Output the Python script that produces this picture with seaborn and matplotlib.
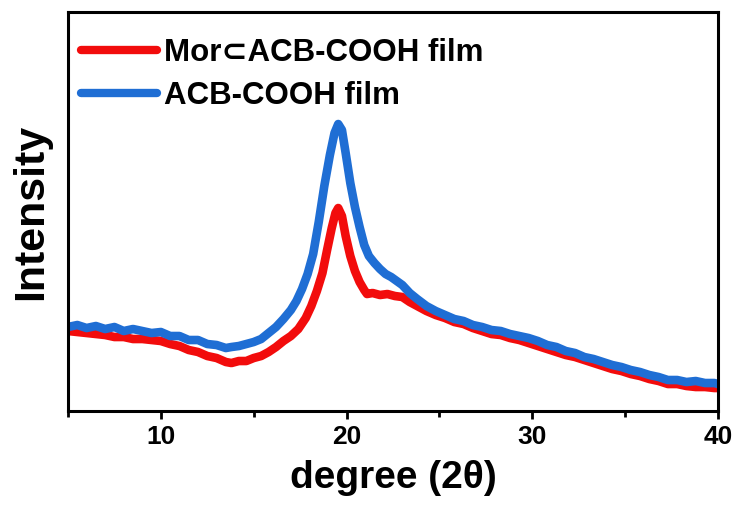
import matplotlib
matplotlib.use("Agg")
import matplotlib.pyplot as plt
import seaborn as sns
import pandas as pd
from matplotlib.ticker import MultipleLocator, NullLocator

# XRD patterns (2theta in degrees, intensity in arbitrary units)
two_theta_acb = [
    5.0, 5.5, 6.0, 6.5, 7.0, 7.5, 8.0, 8.5, 9.0, 9.5, 10.0, 10.5, 11.0, 11.5,
    12.0, 12.5, 13.0, 13.5, 13.8, 14.2, 14.6, 15.0, 15.4, 15.8, 16.2, 16.6,
    17.0, 17.3, 17.6, 17.9, 18.2, 18.5, 18.8, 19.1, 19.35, 19.55, 19.75, 19.95,
    20.2, 20.45, 20.7, 20.95, 21.2, 21.5, 21.8, 22.1, 22.4, 22.7, 23.0, 23.4,
    23.8, 24.3, 24.8, 25.3, 25.8, 26.3, 26.8, 27.3, 27.8, 28.3, 28.8, 29.3,
    29.8, 30.3, 30.8, 31.3, 31.8, 32.3, 32.8, 33.3, 33.8, 34.3, 34.8, 35.3,
    35.8, 36.3, 36.8, 37.3, 37.8, 38.3, 38.8, 39.3, 39.8, 40.0,
]
intensity_acb = [
    84, 86, 83, 85, 82, 84, 80, 82, 80, 78, 79, 75, 75, 71,
    71, 67, 66, 63, 64, 65, 67, 69, 72, 78, 84, 92,
    101, 110, 122, 137, 157, 189, 225, 256, 278, 287, 281, 258,
    228, 204, 184, 166, 155, 148, 142, 137, 134, 130, 126, 118,
    112, 105, 100, 96, 92, 90, 86, 84, 81, 80, 77, 75,
    73, 70, 66, 64, 60, 58, 54, 52, 49, 46, 44, 41,
    39, 36, 34, 31, 31, 29, 30, 28, 28, 27,
]

two_theta_mor = [
    5.0, 5.5, 6.0, 6.5, 7.0, 7.5, 8.0, 8.5, 9.0, 9.5, 10.0, 10.5, 11.0, 11.5,
    12.0, 12.5, 13.0, 13.5, 13.8, 14.2, 14.6, 15.0, 15.4, 15.8, 16.2, 16.6,
    17.0, 17.4, 17.8, 18.1, 18.4, 18.7, 18.95, 19.2, 19.4, 19.55, 19.75, 19.95,
    20.2, 20.45, 20.7, 20.95, 21.1, 21.4, 21.8, 22.2, 22.6, 23.0, 23.4, 23.8,
    24.3, 24.8, 25.3, 25.8, 26.3, 26.8, 27.3, 27.8, 28.3, 28.8, 29.3, 29.8,
    30.3, 30.8, 31.3, 31.8, 32.3, 32.8, 33.3, 33.8, 34.3, 34.8, 35.3, 35.8,
    36.3, 36.8, 37.3, 37.8, 38.3, 38.8, 39.3, 39.8, 40.0,
]
intensity_mor = [
    80, 79, 78, 77, 76, 74, 74, 72, 72, 71, 70, 67, 65, 61,
    59, 55, 53, 49, 48, 50, 50, 53, 55, 59, 64, 70,
    75, 82, 93, 105, 120, 138, 161, 183, 198, 203, 195, 175,
    155, 140, 129, 121, 117, 118, 116, 117, 115, 114, 109, 105,
    100, 96, 93, 89, 87, 83, 80, 77, 76, 73, 71, 68,
    65, 62, 59, 56, 54, 51, 48, 45, 42, 40, 37, 35,
    32, 30, 27, 27, 25, 24, 24, 23, 23,
]

series_labels = ["Mor\u2282ACB-COOH film", "ACB-COOH film"]
series_colors = ["#f20c0c", "#1f6ed4"]

df_mor = pd.DataFrame({"two_theta": two_theta_mor, "intensity": intensity_mor})
df_acb = pd.DataFrame({"two_theta": two_theta_acb, "intensity": intensity_acb})

sns.set_style("ticks")
plt.rcParams["font.family"] = ["Liberation Sans", "DejaVu Sans"]
plt.rcParams["font.weight"] = "bold"
plt.rcParams["text.color"] = "black"
plt.rcParams["axes.labelcolor"] = "black"
plt.rcParams["xtick.color"] = "black"
plt.rcParams["ytick.color"] = "black"

fig = plt.figure(figsize=(7.36, 5.09), dpi=100)
ax = fig.add_axes([0.0924, 0.1925, 0.8832, 0.7839])

sns.lineplot(data=df_mor, x="two_theta", y="intensity", ax=ax,
             color=series_colors[0], linewidth=6.2, label=series_labels[0],
             solid_joinstyle="round", solid_capstyle="round")
sns.lineplot(data=df_acb, x="two_theta", y="intensity", ax=ax,
             color=series_colors[1], linewidth=6.2, label=series_labels[1],
             solid_joinstyle="round", solid_capstyle="round")

ax.set_xlim(5, 40)
ax.set_ylim(0, 399)
ax.xaxis.set_major_locator(MultipleLocator(10))
ax.xaxis.set_minor_locator(MultipleLocator(5))
ax.yaxis.set_major_locator(NullLocator())
ax.yaxis.set_minor_locator(NullLocator())

for side in ["left", "right", "top", "bottom"]:
    ax.spines[side].set_visible(True)
    ax.spines[side].set_linewidth(2.2)
    ax.spines[side].set_color("black")

ax.tick_params(axis="x", which="major", direction="out", length=6, width=2,
               labelsize=19, pad=4, colors="black")
ax.tick_params(axis="x", which="minor", direction="out", length=4, width=2,
               colors="black")
for lbl in ax.get_xticklabels():
    lbl.set_fontweight("bold")

ax.set_xlabel("degree (2\u03b8)", fontsize=28, fontweight="bold", labelpad=8,
              color="black")
ax.set_ylabel("Intensity", fontsize=31, fontweight="bold", labelpad=12,
              color="black")

leg = ax.legend(loc="upper left", frameon=False, fontsize=22.5,
                handlelength=2.45, handletextpad=0.22, labelspacing=0.42,
                borderaxespad=0.0, bbox_to_anchor=(0.0, 0.967))
for line in leg.get_lines():
    line.set_linewidth(6)
for txt in leg.get_texts():
    txt.set_fontweight("bold")
    txt.set_color("black")

fig.savefig("out.png", dpi=100)
